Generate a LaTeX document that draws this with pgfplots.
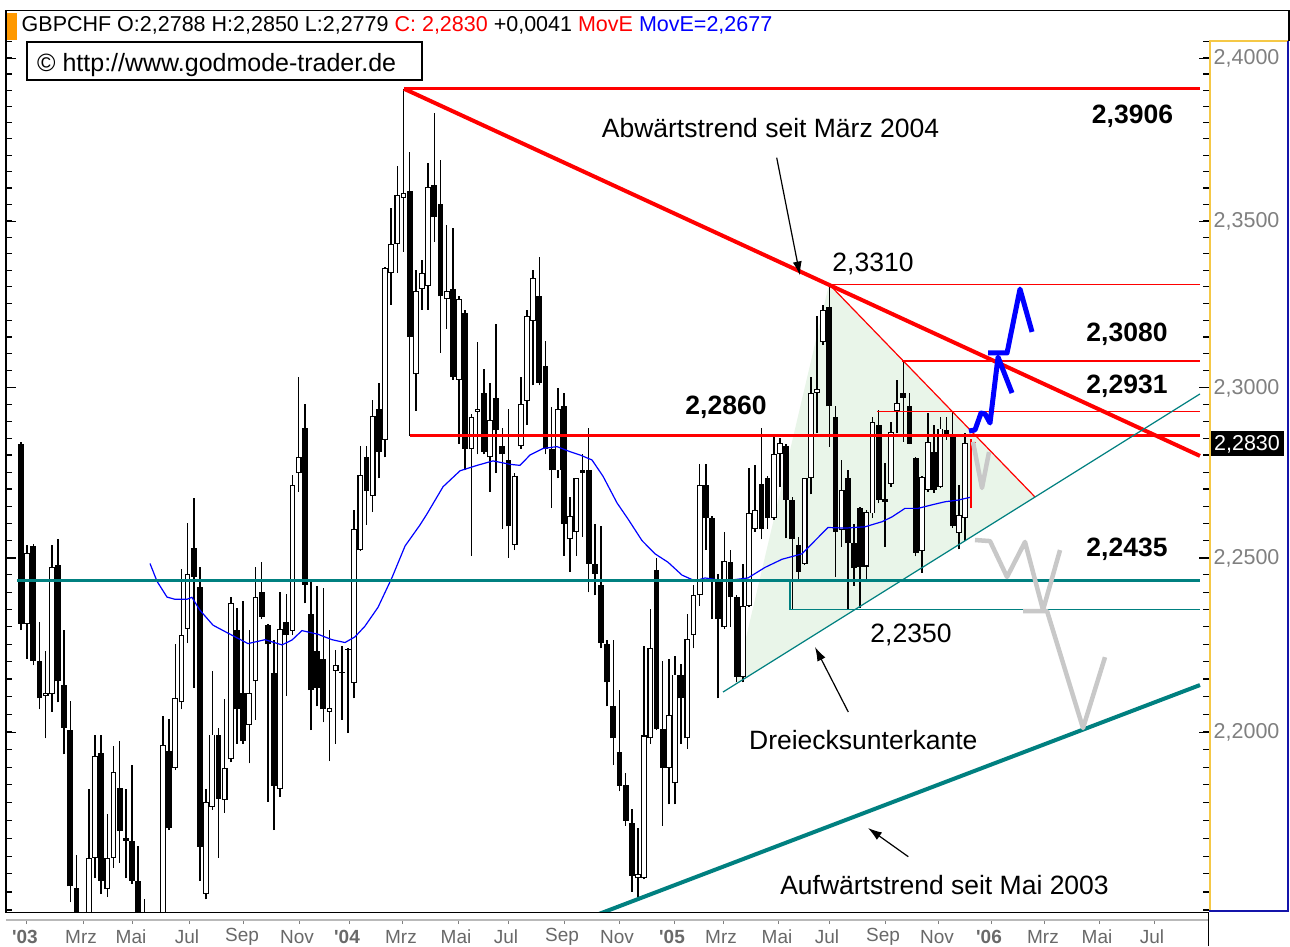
\documentclass[border=0pt]{standalone}
\usepackage{fontspec}
\setmainfont{Liberation Sans}
\usepackage{pgfplots}
\usepackage{pgfplotstable}
\pgfplotsset{compat=1.18}
\usetikzlibrary{arrows.meta}
\definecolor{tealc}{RGB}{0,128,128}
\definecolor{redc}{RGB}{255,0,0}
\definecolor{bluec}{RGB}{0,0,255}
\definecolor{grayproj}{RGB}{200,200,200}
\definecolor{trifill}{RGB}{233,245,233}
\definecolor{axgray}{RGB}{128,128,128}
\definecolor{labgray}{RGB}{105,105,105}
\definecolor{orangec}{RGB}{255,153,0}
\definecolor{yellowc}{RGB}{245,200,70}
\definecolor{boxblue}{RGB}{20,20,170}

\pgfplotstableread{
k o h l c
1 2.2835 2.2840 2.2292 2.2310
2 2.2310 2.2538 2.2210 2.2515
3 2.2535 2.2540 2.2190 2.2202
4 2.2202 2.2315 2.2065 2.2096
5 2.2103 2.2232 2.1982 2.2111
6 2.2108 2.2538 2.2058 2.2474
7 2.2480 2.2554 2.2084 2.2145
8 2.2134 2.2292 2.1937 2.2012
9 2.2005 2.2088 2.1521 2.1566
10 2.1561 2.1654 2.1400 2.1450
11 2.1450 2.1480 2.1300 2.1350
12 2.1400 2.1840 2.1350 2.1644
13 2.1646 2.1993 2.1588 2.1932
14 2.1941 2.1993 2.1544 2.1581
15 2.1559 2.1768 2.1536 2.1646
16 2.1644 2.1959 2.1617 2.1887
17 2.1842 2.1974 2.1632 2.1720
18 2.1702 2.1840 2.1588 2.1693
19 2.1693 2.1906 2.1573 2.1581
20 2.1581 2.1679 2.1400 2.1450
21 2.1420 2.1532 2.1300 2.1380
22 2.1380 2.1450 2.1250 2.1300
23 2.1300 2.1470 2.1250 2.1420
24 2.1420 2.2047 2.1400 2.1962
25 2.1947 2.2038 2.1723 2.1728
26 2.1899 2.2250 2.1892 2.2096
27 2.2084 2.2469 2.2065 2.2277
28 2.2295 2.2603 2.2254 2.2454
29 2.2530 2.2675 2.2126 2.2446
30 2.2415 2.2474 2.1581 2.1676
31 2.1544 2.1840 2.1529 2.1803
32 2.1788 2.2175 2.1780 2.1993
33 2.1993 2.2012 2.1646 2.1810
34 2.1807 2.2093 2.1772 2.1899
35 2.1922 2.2387 2.1914 2.2369
36 2.2292 2.2356 2.1967 2.2065
37 2.2111 2.2376 2.1967 2.1974
38 2.2020 2.2292 2.1911 2.2111
39 2.2145 2.2474 2.2035 2.2387
40 2.2400 2.2489 2.2323 2.2330
41 2.2307 2.2310 2.1803 2.2250
42 2.2169 2.2262 2.1723 2.1847
43 2.1840 2.2403 2.1817 2.2295
44 2.2315 2.2397 2.2103 2.2277
45 2.2289 2.2744 2.2277 2.2714
46 2.2748 2.3032 2.2694 2.2795
47 2.2882 2.2953 2.2369 2.2423
48 2.2338 2.2433 2.2005 2.2119
49 2.2232 2.2418 2.2073 2.2126
50 2.2210 2.2412 2.2027 2.2065
51 2.2058 2.2292 2.1917 2.2068
52 2.2175 2.2235 2.1967 2.2190
53 2.2169 2.2247 2.2035 2.2170
54 2.2235 2.2240 2.1997 2.2236
55 2.2139 2.2639 2.2096 2.2585
56 2.2523 2.2827 2.2520 2.2744
57 2.2795 2.2827 2.2597 2.2697
58 2.2681 2.2964 2.2634 2.2917
59 2.2937 2.3016 2.2733 2.2811
60 2.2847 2.3363 2.2795 2.3360
61 2.3344 2.3541 2.3249 2.3431
62 2.3431 2.3670 2.3344 2.3579
63 2.3571 2.3906 2.3407 2.3587
64 2.3592 2.3711 2.2858 2.3152
65 2.3040 2.3352 2.2932 2.3289
66 2.3297 2.3384 2.3233 2.3344
67 2.3305 2.3678 2.3233 2.3604
68 2.3612 2.3831 2.3439 2.3513
69 2.3554 2.3686 2.3104 2.3273
70 2.3265 2.3488 2.3176 2.3289
71 2.3297 2.3480 2.3024 2.3032
72 2.3024 2.3273 2.2835 2.3265
73 2.3224 2.3233 2.2756 2.2819
74 2.2819 2.2922 2.2507 2.2914
75 2.2929 2.3136 2.2803 2.2937
76 2.2985 2.3056 2.2803 2.2811
77 2.2795 2.3016 2.2694 2.2906
78 2.2969 2.3192 2.2748 2.2874
79 2.2827 2.2882 2.2585 2.2803
80 2.2787 2.2937 2.2500 2.2592
81 2.2538 2.2748 2.2523 2.2740
82 2.2827 2.3032 2.2819 2.2953
83 2.2961 2.3232 2.2890 2.3216
84 2.3200 2.3352 2.3008 2.3328
85 2.3273 2.3392 2.3008 2.3016
86 2.3064 2.3139 2.2803 2.2819
87 2.2819 2.2942 2.2647 2.2756
88 2.2756 2.3000 2.2733 2.2937
89 2.2945 2.2985 2.2507 2.2600
90 2.2554 2.2678 2.2461 2.2624
91 2.2577 2.2733 2.2507 2.2733
92 2.2756 2.2803 2.2562 2.2750
93 2.2756 2.2882 2.2400 2.2484
94 2.2484 2.2600 2.2392 2.2454
95 2.2423 2.2592 2.2239 2.2254
96 2.2250 2.2262 2.2073 2.2142
97 2.2073 2.2262 2.1906 2.1982
98 2.1944 2.2119 2.1832 2.1847
99 2.1851 2.1884 2.1735 2.1750
100 2.1742 2.1783 2.1551 2.1595
101 2.1588 2.1728 2.1529 2.1600
102 2.1588 2.2247 2.1585 2.1990
103 2.1982 2.2353 2.1967 2.2239
104 2.2464 2.2500 2.2005 2.2008
105 2.2008 2.2202 2.1735 2.1899
106 2.1899 2.2210 2.1795 2.2050
107 2.1854 2.2217 2.1795 2.2164
108 2.2164 2.2194 2.1967 2.2096
109 2.1982 2.2338 2.1952 2.2265
110 2.2277 2.2423 2.2239 2.2392
111 2.2392 2.2775 2.2361 2.2713
112 2.2713 2.2775 2.2523 2.2616
113 2.2616 2.2624 2.2323 2.2438
114 2.2438 2.2454 2.2096 2.2323
115 2.2300 2.2577 2.2295 2.2492
116 2.2489 2.2523 2.2300 2.2387
117 2.2387 2.2392 2.2142 2.2157
118 2.2157 2.2484 2.2142 2.2361
119 2.2361 2.2764 2.2358 2.2631
120 2.2585 2.2772 2.2577 2.2639
121 2.2717 2.2882 2.2554 2.2585
122 2.2733 2.2740 2.2585 2.2616
123 2.2616 2.2858 2.2612 2.2803
124 2.2803 2.2853 2.2709 2.2838
125 2.2827 2.2835 2.2557 2.2670
126 2.2670 2.2678 2.2353 2.2554
127 2.2538 2.2562 2.2438 2.2461
128 2.2484 2.2733 2.2480 2.2733
129 2.2733 2.3032 2.2686 2.2985
130 2.2985 2.3216 2.2866 2.2996
131 2.3136 2.3249 2.3128 2.3232
132 2.3243 2.3310 2.2826 2.2945
133 2.2915 2.2945 2.2446 2.2577
134 2.2582 2.2787 2.2533 2.2699
135 2.2733 2.2758 2.2350 2.2543
136 2.2545 2.2600 2.2420 2.2470
137 2.2645 2.2650 2.2355 2.2475
138 2.2475 2.2640 2.2432 2.2635
139 2.2630 2.2915 2.2616 2.2900
140 2.2890 2.2935 2.2660 2.2670
141 2.2672 2.2777 2.2533 2.2665
142 2.2717 2.2900 2.2708 2.2870
143 2.2930 2.3024 2.2866 2.2956
144 2.2985 2.3080 2.2840 2.2970
145 2.2945 2.2985 2.2833 2.2835
146 2.2792 2.2797 2.2505 2.2515
147 2.2520 2.2740 2.2456 2.2738
148 2.2699 2.2925 2.2694 2.2841
149 2.2811 2.2890 2.2690 2.2699
150 2.2708 2.2915 2.2704 2.2880
151 2.2875 2.2915 2.2846 2.2856
152 2.2856 2.2931 2.2587 2.2592
153 2.2572 2.2713 2.2525 2.2625
154 2.2616 2.2866 2.2550 2.2836
}\candles

\begin{document}
\begin{tikzpicture}[x=1pt,y=1pt]
\useasboundingbox (0,0) rectangle (1290,946);
\fill[white] (0,0) rectangle (1290,946);

\begin{axis}[
  at={(6pt,34pt)}, anchor=south west, scale only axis,
  width=1203pt, height=901pt,
  xmin=-1.431, xmax=193.54,
  ymode=log, ymin=2.14944, ymax=2.41477,
  axis line style={draw=none},
  clip mode=individual,
  xtick=\empty,
  ytick={2.2,2.25,2.3,2.35,2.4},
  yticklabels={{2,2000},{2,2500},{2,3000},{2,3500},{2,4000}},
  minor ytick={2.150,2.155,...,2.410},
  ytick pos=both, yticklabel pos=right,
  tick align=inside,
  major tick length=10pt, minor tick length=6pt,
  tick style={black, line width=1.1pt},
  yticklabel style={font=\fontsize{21.5}{24}\selectfont, text=axgray, anchor=west, inner sep=0pt, xshift=4.5pt},
]
% triangle
\addplot[fill=trifill, draw=none, forget plot] coordinates {(116.72,2.21353) (131.96,2.3310) (165.35,2.2677)};
% wicks
\addplot[draw=none, mark=none, forget plot, error bars/.cd, y dir=plus, y explicit, error mark=none,
  error bar style={draw=black, line width=1.5pt}]
  table[x=k, y=l, y error expr=\thisrow{h}-\thisrow{l}] {\candles};
% bodies
\addplot[draw=none, mark=none, forget plot, error bars/.cd, y dir=plus, y explicit, error mark=none,
  error bar style={draw=black, line width=5.8pt}]
  table[x=k, y expr={min(\thisrow{o},\thisrow{c})}, y error expr={max(abs(\thisrow{c}-\thisrow{o}),0.0003)}] {\candles};
\addplot[draw=none, mark=none, forget plot, error bars/.cd, y dir=plus, y explicit, error mark=none,
  error bar style={draw=white, line width=3.6pt}]
  table[x=k, y expr={\thisrow{o}+0.0003}, y error expr={max(\thisrow{c}-\thisrow{o}-0.0006,0)}] {\candles};
% last bar
\addplot[redc, line width=1.5pt] coordinates {(155,2.2645) (155,2.2850)};
\addplot[redc, line width=1.5pt] coordinates {(155,2.2838) (155.8,2.2838)};
% moving average
\addplot[bluec, line width=1.2pt] coordinates {(21.91,2.2484) (23.04,2.2433) (24.66,2.2387) (25.96,2.2380) (27.9,2.2380) (28.7,2.2386) (30.01,2.2349) (32.12,2.2306) (34.06,2.2287) (37.79,2.2253) (40.55,2.2264) (43.3,2.2249) (44.92,2.2263) (46.54,2.2290) (49.14,2.2279) (51.41,2.2264) (53.51,2.2256) (55.13,2.2272) (56.75,2.2303) (58.86,2.2357) (61.13,2.2443) (63.24,2.2535) (65.67,2.2597) (66.8,2.2629) (69.4,2.2708) (72.15,2.2755) (74.91,2.2771) (77.5,2.2784) (80.25,2.2774) (81.87,2.2771) (83.5,2.2802) (85.6,2.2821) (87.87,2.2826) (89.98,2.2811) (91.6,2.2802) (93.54,2.2787) (95.33,2.2739) (97.6,2.2661) (99.38,2.2614) (101.65,2.2551) (103.76,2.2512) (105.86,2.2488) (108.13,2.2450) (110.24,2.2434) (111.86,2.2442) (115.1,2.2434) (118.83,2.2442) (121.58,2.2473) (124.34,2.2496) (127.58,2.2512) (129.69,2.2551) (131.79,2.2589) (134.55,2.2587) (137.79,2.2591) (140.55,2.2606) (142.17,2.2620) (144.27,2.2645) (146.38,2.2645) (148.65,2.2655) (150.76,2.2664) (152.86,2.2669) (154.81,2.2677)};
% lines
\addplot[redc, line width=3pt] coordinates {(63.07,2.3906) (192.08,2.3906)};
\addplot[redc, line width=4pt] coordinates {(63.07,2.3906) (192.08,2.27985)};
\addplot[redc, line width=3.5pt] coordinates {(64.05,2.2860) (192.08,2.2860)};
\addplot[redc, line width=1.2pt] coordinates {(131.96,2.3310) (192.08,2.3310)};
\addplot[redc, line width=1.2pt] coordinates {(143.79,2.3080) (192.08,2.3080)};
\addplot[redc, line width=1.2pt] coordinates {(139.74,2.2931) (192.08,2.2931)};
\addplot[redc, line width=1.2pt] coordinates {(131.96,2.3310) (165.35,2.2678)};
\addplot[tealc, line width=3.2pt] coordinates {(0.35,2.2435) (192.08,2.2435)};
\addplot[tealc, line width=1.3pt] coordinates {(125.63,2.2435) (125.63,2.2350) (192.08,2.2350)};
\addplot[tealc, line width=1.2pt] coordinates {(114.78,2.21139) (192.08,2.29819)};
\addplot[tealc, line width=4pt] coordinates {(93.38,2.14805) (192.08,2.21339)};
% projections
\addplot[grayproj, line width=4.5pt, line join=round] coordinates {(155.29,2.28398) (156.75,2.27045) (157.89,2.28104)};
\addplot[grayproj, line width=4.5pt, line join=round] coordinates {(155.62,2.25525) (158.05,2.25496) (160.81,2.24449) (163.72,2.25467) (166.64,2.23494) (169.40,2.25234)};
\addplot[grayproj, line width=4.5pt, line join=round] coordinates {(163.40,2.23465) (167.29,2.23465) (173.12,2.20112) (176.69,2.22141)};
\addplot[bluec, line width=5pt, line join=round] coordinates {(154.65,2.28723) (155.62,2.28753) (156.59,2.29256) (157.24,2.29226) (158.05,2.28960) (159.35,2.30920) (161.62,2.29849)};
\addplot[bluec, line width=5pt, line join=round] coordinates {(157.73,2.31040) (160.81,2.31040) (162.91,2.32958) (164.86,2.31667)};
\end{axis}

% time axis
\begin{axis}[
  at={(6pt,26pt)}, anchor=south west, scale only axis,
  width=1203pt, height=10pt,
  xmin=-1.431, xmax=193.54, ymin=0, ymax=1,
  hide y axis, axis x line*=bottom,
  x axis line style={draw=gray!55, line width=2.5pt},
  xtick={1.97,11.05,19.15,28.23,37.14,46.06,54.16,62.91,71.83,79.93,89.01,97.92,106.84,114.78,123.85,131.96,141.03,149.78,158.21,166.96,175.72,184.63},
  xticklabels={\textbf{\textquotesingle03},Mrz,Mai,Jul,Sep,Nov,\textbf{\textquotesingle04},Mrz,Mai,Jul,Sep,Nov,\textbf{\textquotesingle05},Mrz,Mai,Jul,Sep,Nov,\textbf{\textquotesingle06},Mrz,Mai,Jul},
  tick align=outside, major tick length=4pt,
  xtick style={draw=gray, line width=1pt},
  xticklabel style={font=\fontsize{19}{22}\selectfont, text=labgray, anchor=center, yshift=-13pt, xshift=-2pt},
]
\addplot[draw=none] coordinates {(0,0.5)};
\end{axis}

% frame
\draw[black, line width=1.5pt] (6,33.5) -- (6,935.5) -- (1289,935.5) -- (1289,905);
\draw[black, line width=1.5pt] (6,33.5) -- (1209,33.5);
\draw[black, line width=1.5pt] (1208.5,0) -- (1208.5,33.5);
\draw[yellowc, line width=1.5pt] (1210,35) -- (1210,905) -- (1288,905);
\draw[boxblue, line width=2pt] (1288,905) -- (1288,35) -- (1209,35);
\node[fill=black, text=white, font=\fontsize{21.5}{24}\selectfont, inner sep=0pt, minimum width=73pt, minimum height=25pt] at (1247,502) {2,2830};

% title
\fill[orangec] (7,906) rectangle (17,933);
\node[anchor=base west, inner sep=0pt, font=\fontsize{21.5}{24}\selectfont] at (21.5,914.3)
  {GBPCHF O:2,2788 H:2,2850 L:2,2779 \textcolor{redc}{C: 2,2830} +0,0041 \textcolor{redc}{MovE} \textcolor{bluec}{MovE=2,2677}};
\draw[black, line width=1.5pt, fill=white] (27,866) rectangle (422,904);
\node[anchor=base west, inner sep=0pt, font=\fontsize{25}{28}\selectfont] at (37,874) {© http://www.godmode-trader.de};

% annotations
\node[anchor=base, inner sep=0pt, font=\fontsize{26.5}{30}\selectfont] at (770.5,808) {Abwärtstrend seit März 2004};
\node[anchor=base, inner sep=0pt, font=\fontsize{26.5}{30}\selectfont] at (873,674.3) {2,3310};
\node[anchor=base, inner sep=0pt, font=\fontsize{26.5}{30}\selectfont\bfseries] at (1132.5,822.3) {2,3906};
\node[anchor=base, inner sep=0pt, font=\fontsize{26.5}{30}\selectfont\bfseries] at (1127,604.3) {2,3080};
\node[anchor=base, inner sep=0pt, font=\fontsize{26.5}{30}\selectfont\bfseries] at (1127,552.7) {2,2931};
\node[anchor=base, inner sep=0pt, font=\fontsize{26.5}{30}\selectfont\bfseries] at (726,531.2) {2,2860};
\node[anchor=base, inner sep=0pt, font=\fontsize{26.5}{30}\selectfont\bfseries] at (1127,389.3) {2,2435};
\node[anchor=base, inner sep=0pt, font=\fontsize{26.5}{30}\selectfont] at (911,303.6) {2,2350};
\node[anchor=base, inner sep=0pt, font=\fontsize{26.5}{30}\selectfont] at (863.3,196.5) {Dreiecksunterkante};
\node[anchor=base, inner sep=0pt, font=\fontsize{26.5}{30}\selectfont] at (944.5,52) {Aufwärtstrend seit Mai 2003};

% arrows
\draw[black, line width=1.2pt, -{Latex[length=14pt,width=9pt]}] (776.7,788.3) -- (800,670.5);
\draw[black, line width=1.2pt, -{Latex[length=14pt,width=9pt]}] (848.3,234) -- (815,299);
\draw[black, line width=1.2pt, -{Latex[length=14pt,width=9pt]}] (908.3,89.3) -- (868,118);
\end{tikzpicture}
\end{document}
